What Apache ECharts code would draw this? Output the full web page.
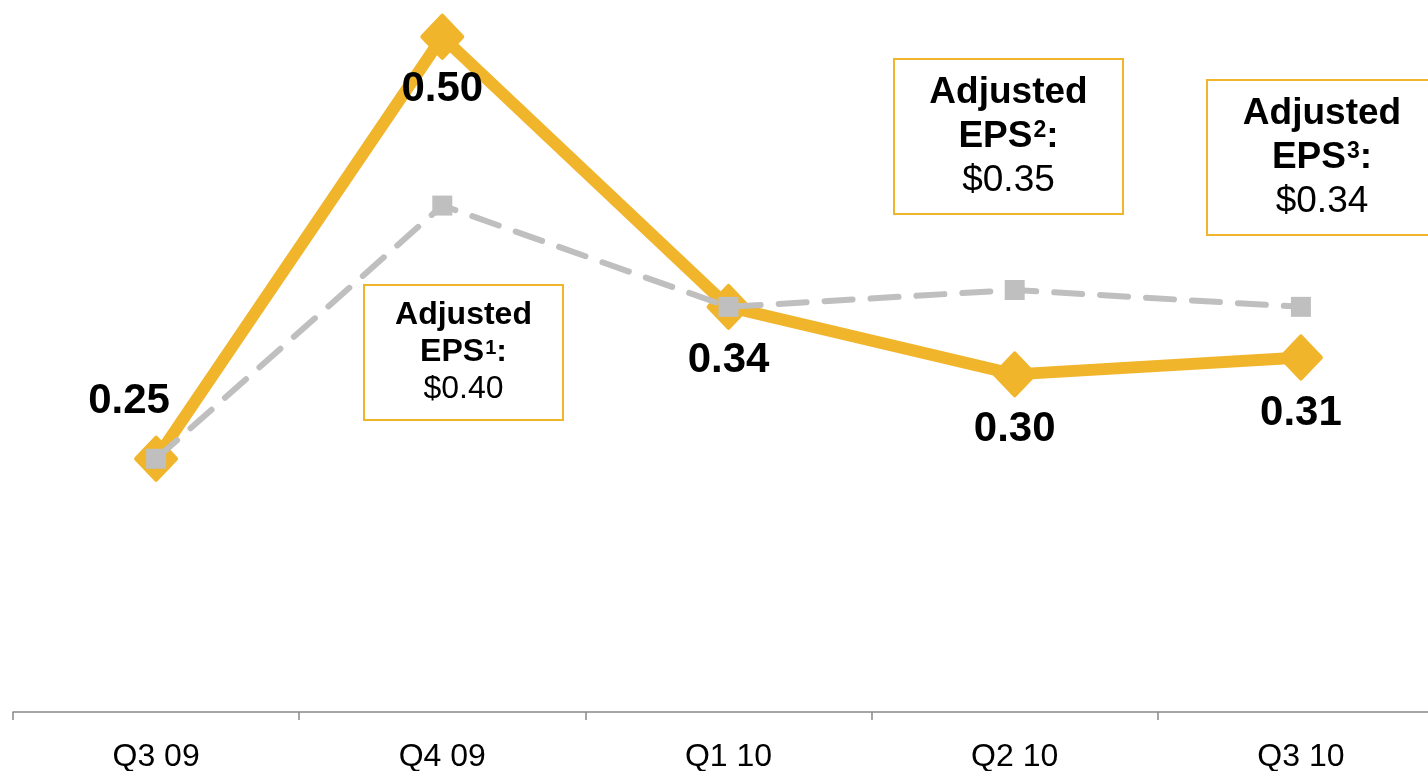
<!DOCTYPE html>
<html>
<head>
<meta charset="utf-8">
<script src="https://cdn.jsdelivr.net/npm/echarts@6/dist/echarts.min.js"></script>
<style>
  html, body { margin: 0; padding: 0; background: #fff; overflow: hidden; }
  /* the category axis runs a little past the right edge of the window */
  #chart { width: 1444px; height: 771px; }
</style>
</head>
<body>
<div id="chart"></div>
<script>
// Quarterly EPS: reported (gold) vs adjusted (grey dashed)
const quarters = ['Q3 09', 'Q4 09', 'Q1 10', 'Q2 10', 'Q3 10'];
const reportedEps = [0.25, 0.50, 0.34, 0.30, 0.31];
const adjustedEps = [0.25, 0.40, 0.34, 0.35, 0.34];
const adjustedNotes = [
  { note: '1', value: '$0.40' },
  { note: '2', value: '$0.35' },
  { note: '3', value: '$0.34' }
];

const GOLD = '#F0B52B';
const GREY = '#BFBFBF';
const FONT = '"Liberation Sans", Arial, sans-serif';

// Label offsets for the reported values
const labelOffsets = [[-27, -57], [0, 53], [0, 54], [0, 55], [0, 56]];

const chart = echarts.init(document.getElementById('chart'));

function noteBox(x, y, w, h, item, size, lineH) {
  const supSize = Math.round(size * 0.62);
  return {
    type: 'group',
    left: x, top: y,
    children: [
      {
        type: 'rect',
        shape: { x: 0, y: 0, width: w, height: h },
        style: { fill: '#fff', stroke: GOLD, lineWidth: 2 }
      },
      {
        type: 'text',
        x: w / 2, y: h / 2,
        style: {
          text: '{b|Adjusted}\n{b|EPS}{s|' + item.note + '}{b|:}\n{n|' + item.value + '}',
          align: 'center', verticalAlign: 'middle',
          rich: {
            b: { fontFamily: FONT, fontWeight: 'bold', fontSize: size, lineHeight: lineH, fill: '#000' },
            s: { fontFamily: FONT, fontWeight: 'bold', fontSize: supSize, lineHeight: lineH, fill: '#000',
                 verticalAlign: 'top', padding: [Math.round(lineH * 0.12), 0, 0, 1] },
            n: { fontFamily: FONT, fontSize: size, lineHeight: lineH, fill: '#000' }
          }
        }
      }
    ]
  };
}

chart.setOption({
  animation: false,
  backgroundColor: '#fff',
  grid: { left: 13, right: 0, top: 3, bottom: 59, outerBoundsMode: 'none', containLabel: false },
  xAxis: {
    type: 'category',
    data: quarters,
    boundaryGap: true,
    axisLine: { lineStyle: { color: '#898989', width: 1.5 } },
    axisTick: { show: true, length: 8, lineStyle: { color: '#898989', width: 1.5 } },
    axisLabel: { color: '#000', fontFamily: FONT, fontSize: 32, margin: 29 }
  },
  yAxis: {
    type: 'value',
    min: 0.1, max: 0.52,
    show: false,
    splitLine: { show: false }
  },
  series: [
    {
      name: 'Reported EPS',
      type: 'line',
      data: reportedEps.map((v, i) => ({
        value: v,
        label: { offset: labelOffsets[i] }
      })),
      z: 2,
      lineStyle: { color: GOLD, width: 12, join: 'round' },
      symbol: 'diamond',
      symbolSize: [40, 42],
      itemStyle: { color: GOLD, borderColor: GOLD, borderWidth: 4, borderJoin: 'round' },
      label: {
        show: true,
        position: 'inside',
        formatter: p => p.value.toFixed(2),
        color: '#000',
        fontFamily: FONT,
        fontWeight: 'bold',
        fontSize: 42
      }
    },
    {
      name: 'Adjusted EPS',
      type: 'line',
      data: adjustedEps,
      z: 3,
      lineStyle: { color: GREY, width: 6, type: [28, 18], cap: 'round' },
      symbol: 'rect',
      symbolSize: 20,
      itemStyle: { color: GREY }
    }
  ],
  graphic: [
    noteBox(363, 284, 199, 135, adjustedNotes[0], 32, 37),
    noteBox(893, 58, 229, 155, adjustedNotes[1], 37, 44),
    noteBox(1206, 79, 230, 155, adjustedNotes[2], 37, 44)
  ]
});
</script>
</body>
</html>
